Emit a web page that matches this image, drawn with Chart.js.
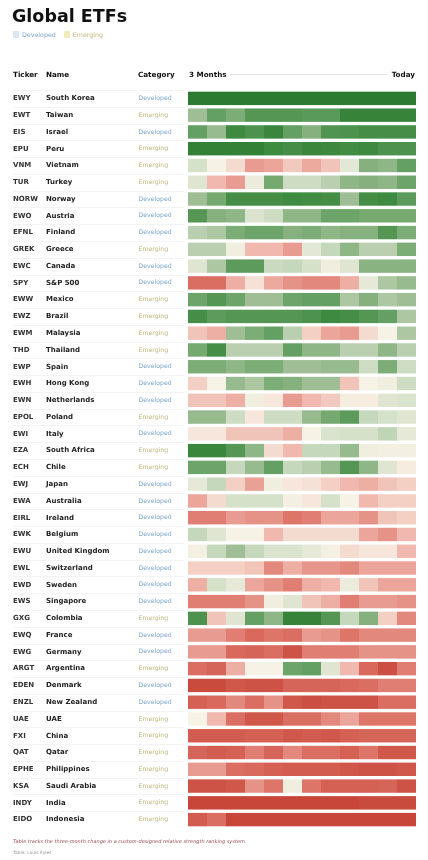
<!DOCTYPE html>
<html>
<head>
<meta charset="utf-8">
<script src="https://cdn.jsdelivr.net/npm/chart.js@4/dist/chart.umd.min.js"></script>
<style>
  body { margin: 0; background: #fff; font-family: "DejaVu Sans", sans-serif; }
  .page { position: relative; width: 428px; height: 860px; overflow: hidden; }
  .page canvas { position: absolute; left: 0; top: 0; }
  .title { position: absolute; left: 12px; top: 6px; font-size: 17.5px; font-weight: bold; color: #111; }
  .legend { position: absolute; left: 13px; top: 31px; font-size: 6.3px; display: flex; align-items: center; }
  .legend .sw { width: 6px; height: 7px; margin-right: 3px; }
  .legend span { margin-right: 8px; }
  .head { position: absolute; top: 70px; font-size: 7.2px; font-weight: bold; color: #111; }
  .rule { position: absolute; left: 230px; width: 157px; top: 74px; height: 1px; background: #e2e2e2; }
  .note { position: absolute; left: 13px; top: 838px; font-size: 5px; font-style: italic; color: #9a4a5a; }
  .credit { position: absolute; left: 13px; top: 850px; font-size: 4.4px; color: #999; }
</style>
</head>
<body>
<div class="page">
  <canvas id="grid"></canvas>
  <div class="title">Global ETFs</div>
  <div class="legend">
    <div class="sw" style="background:#dbe6f2"></div><span style="color:#7aa6cf">Developed</span>
    <div class="sw" style="background:#f1ecbd"></div><span style="color:#bdb67a">Emerging</span>
  </div>
  <div class="head" style="left:13px">Ticker</div>
  <div class="head" style="left:46px">Name</div>
  <div class="head" style="left:138px">Category</div>
  <div class="head" style="left:189px">3 Months</div>
  <div class="rule"></div>
  <div class="head" style="right:13px">Today</div>
  <div class="note">Table tracks the three-month change in a custom-designed relative strength ranking system.</div>
  <div class="credit">Table: Louis Eyles</div>
</div>
<script>
// rows, top to bottom
const tickers = ['EWY','EWT','EIS','EPU','VNM','TUR','NORW','EWO','EFNL','GREK','EWC','SPY','EWW','EWZ','EWM','THD',
  'EWP','EWH','EWN','EPOL','EWI','EZA','ECH','EWJ','EWA','EIRL','EWK','EWU','EWL','EWD','EWS','GXG','EWQ','EWG',
  'ARGT','EDEN','ENZL','UAE','FXI','QAT','EPHE','KSA','INDY','EIDO'];
const names = ['South Korea','Taiwan','Israel','Peru','Vietnam','Turkey','Norway','Austria','Finland','Greece','Canada',
  'S&P 500','Mexico','Brazil','Malaysia','Thailand','Spain','Hong Kong','Netherlands','Poland','Italy','South Africa',
  'Chile','Japan','Australia','Ireland','Belgium','United Kingdom','Switzerland','Sweden','Singapore','Colombia',
  'France','Germany','Argentina','Denmark','New Zealand','UAE','China','Qatar','Philippines','Saudi Arabia','India','Indonesia'];
const categories = ['Developed','Emerging','Developed','Emerging','Emerging','Emerging','Developed','Developed','Developed',
  'Emerging','Developed','Developed','Emerging','Emerging','Emerging','Emerging','Developed','Developed','Developed',
  'Emerging','Developed','Emerging','Emerging','Developed','Developed','Developed','Developed','Developed','Developed',
  'Developed','Developed','Emerging','Developed','Developed','Emerging','Developed','Developed','Emerging','Emerging',
  'Emerging','Emerging','Emerging','Emerging','Emerging'];

// relative strength score (0 weak .. 100 strong), 12 weekly cells from 3 months ago to today
const scores = [
  [100,100,100,100,100,100,100,100,100,100,100,100],
  [68,82,76,86,86,86,85,85,96,96,96,96],
  [82,70,92,88,94,82,74,87,88,90,90,90],
  [97,97,97,97,92,90,94,93,91,92,88,88],
  [58,50,46,34,36,43,37,42,55,74,72,82],
  [56,40,34,53,78,60,60,64,72,74,72,80],
  [68,78,90,90,90,92,91,90,68,90,92,84],
  [86,74,72,57,60,72,72,80,80,78,78,78],
  [64,66,76,80,80,74,76,72,74,74,86,76],
  [64,64,52,40,40,34,55,62,72,64,64,76],
  [56,66,84,84,61,62,58,52,56,73,73,73],
  [24,24,38,47,37,32,30,30,38,54,66,70],
  [80,86,80,68,68,80,82,82,66,74,66,68],
  [90,84,86,86,86,86,88,92,90,86,82,66],
  [42,38,68,76,82,64,44,36,34,46,50,66],
  [78,90,64,64,64,82,72,72,64,64,72,64],
  [76,76,72,76,76,68,68,70,70,60,76,60],
  [44,50,70,66,76,74,68,68,42,50,52,60],
  [42,42,38,52,48,34,40,43,49,49,56,57],
  [70,70,60,48,60,60,70,78,84,62,58,56],
  [48,48,42,42,42,38,50,57,58,58,63,54],
  [94,94,86,72,46,40,62,62,70,52,51,51],
  [80,80,62,70,82,62,64,70,86,72,56,49],
  [54,62,44,35,52,48,47,44,40,38,42,44],
  [36,46,58,58,58,51,48,58,50,40,44,44],
  [28,28,34,32,32,26,28,36,36,32,42,44],
  [62,56,50,50,40,46,46,46,46,36,32,40],
  [51,62,68,62,57,57,54,51,46,48,48,40],
  [44,44,44,42,30,38,33,33,30,36,36,36],
  [38,58,54,36,32,28,38,40,53,42,36,36],
  [28,28,28,32,52,56,42,38,28,34,34,32],
  [88,42,56,82,72,96,96,86,62,74,44,30],
  [34,34,28,22,26,24,34,32,26,30,30,30],
  [34,34,22,20,24,12,28,28,28,32,32,32],
  [24,20,38,50,50,80,82,56,40,22,10,28],
  [8,8,14,12,12,20,20,20,22,24,28,28],
  [18,22,30,24,32,14,10,12,12,12,24,24],
  [50,40,24,14,14,24,24,30,36,26,26,26],
  [16,16,16,18,18,14,16,14,18,20,20,20],
  [20,16,18,28,20,30,24,24,18,26,14,14],
  [34,34,24,22,18,16,16,16,14,12,12,14],
  [12,12,14,32,26,52,26,18,18,18,20,12],
  [6,6,6,6,6,6,6,6,6,8,8,8],
  [16,24,6,6,6,6,6,6,6,6,6,6]
];
const weeks = 12;

const stops = [
  [0, [192, 57, 43]],
  [25, [220, 112, 100]],
  [40, [240, 184, 174]],
  [50, [247, 242, 230]],
  [62, [198, 216, 188]],
  [68, [160, 190, 150]],
  [76, [125, 173, 118]],
  [82, [100, 160, 100]],
  [86, [85, 150, 85]],
  [92, [62, 138, 64]],
  [100, [45, 123, 50]]
];

function scoreColor(v) {
  for (let k = 1; k < stops.length; k++) {
    if (v <= stops[k][0]) {
      const [v0, c0] = stops[k - 1];
      const [v1, c1] = stops[k];
      const t = (v - v0) / (v1 - v0);
      const c = c0.map((a, i) => Math.round(a + (c1[i] - a) * t));
      return `rgb(${c[0]},${c[1]},${c[2]})`;
    }
  }
  return 'rgb(45,123,50)';
}

const catColors = { Developed: '#7aa6cf', Emerging: '#bdb67a' };

const rowLabels = {
  id: 'rowLabels',
  afterDraw(chart) {
    const ctx = chart.ctx;
    const y = chart.scales.y;
    const band = (chart.chartArea.bottom - chart.chartArea.top) / tickers.length;
    ctx.save();
    ctx.strokeStyle = '#eeeeee';
    ctx.lineWidth = 0.7;
    for (let i = 0; i < tickers.length; i++) {
      const top = Math.round(y.getPixelForValue(i) - band / 2) + 0.5;
      ctx.beginPath();
      ctx.moveTo(13, top);
      ctx.lineTo(184, top);
      ctx.stroke();
    }
    ctx.textBaseline = 'middle';
    tickers.forEach((t, i) => {
      const py = y.getPixelForValue(i);
      ctx.font = 'bold 7px "DejaVu Sans"';
      ctx.fillStyle = '#333';
      ctx.fillText(t, 13, py);
      ctx.fillStyle = '#222';
      ctx.fillText(names[i], 46, py);
      ctx.font = '6.2px "DejaVu Sans"';
      ctx.fillStyle = catColors[categories[i]];
      ctx.fillText(categories[i], 138.5, py);
    });
    ctx.restore();
  }
};

const datasets = [];
for (let w = 0; w < weeks; w++) {
  datasets.push({
    label: 'week ' + (w + 1),
    data: tickers.map(() => 1),
    backgroundColor: scores.map(r => scoreColor(r[w])),
    borderWidth: 0,
    barPercentage: 1,
    categoryPercentage: 0.8
  });
}

const canvas = document.getElementById('grid');
canvas.width = 428;
canvas.height = 860;
new Chart(canvas, {
  type: 'bar',
  data: { labels: tickers, datasets },
  options: {
    indexAxis: 'y',
    responsive: false,
    animation: false,
    layout: { padding: { left: 188, right: 12, top: 90, bottom: 32 } },
    scales: {
      x: { stacked: true, min: 0, max: weeks, display: false },
      y: { stacked: true, display: false }
    },
    plugins: { legend: { display: false }, tooltip: { enabled: false } }
  },
  plugins: [rowLabels]
});
</script>
</body>
</html>
